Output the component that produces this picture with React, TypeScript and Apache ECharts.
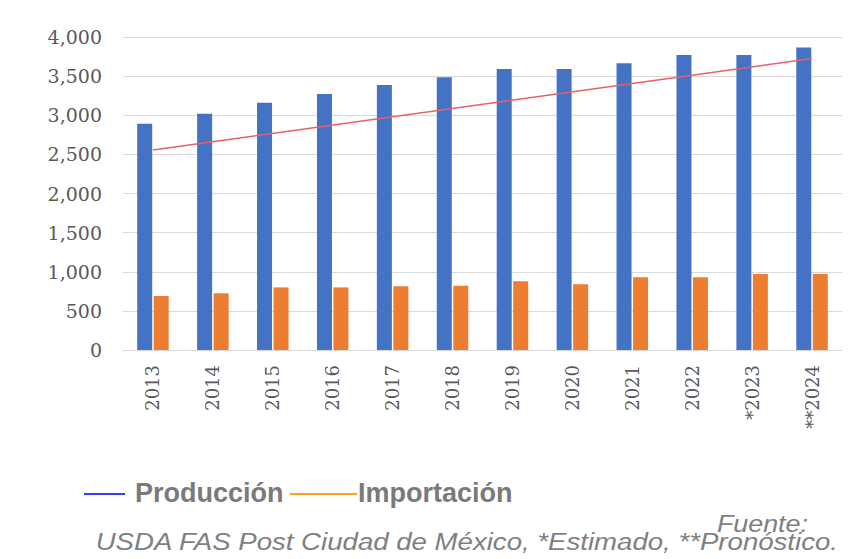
import React, { useEffect, useRef } from "react";
import * as echarts from "echarts";

const years = ["2013", "2014", "2015", "2016", "2017", "2018", "2019", "2020", "2021", "2022", "*2023", "**2024"];
const produccion = [2890, 3020, 3160, 3270, 3385, 3485, 3590, 3590, 3665, 3770, 3770, 3865];
const importacion = [690, 725, 800, 800, 815, 820, 880, 840, 930, 930, 970, 970];
const tendencia: (number | null)[] = [2555, null, null, null, null, null, null, null, null, null, null, 3725];
const yTicks = { min: 0, max: 4000, interval: 500 };
const legendLabels = ["Producción", "Importación"];
const footerLines = ["Fuente:", "USDA FAS Post Ciudad de México, *Estimado, **Pronóstico."];

const serif = "'DejaVu Serif', 'Liberation Serif', serif";
const sans = "'Liberation Sans', Arial, sans-serif";

export default function App() {
  const ref = useRef<HTMLDivElement>(null);
  useEffect(() => {
    document.body.style.margin = "0";
    if (!ref.current) return;
    const chart = echarts.init(ref.current, null, { renderer: "svg" });
    chart.setOption({
      animation: false,
      backgroundColor: "#ffffff",
      grid: { left: 123, right: 7, top: 37, bottom: 209 },
      xAxis: {
        type: "category",
        data: years,
        axisLine: { lineStyle: { color: "#d9d9d9", width: 1 } },
        axisTick: { show: false },
        axisLabel: {
          rotate: 90,
          margin: 15,
          fontFamily: serif,
          fontSize: 18,
          color: "#595959",
        },
      },
      yAxis: {
        type: "value",
        min: yTicks.min,
        max: yTicks.max,
        interval: yTicks.interval,
        axisLine: { show: false },
        axisTick: { show: false },
        splitLine: { lineStyle: { color: "#d9d9d9", width: 1 } },
        axisLabel: {
          margin: 21,
          fontFamily: serif,
          fontSize: 19,
          color: "#595959",
          formatter: (v: number) => v.toLocaleString("en-US"),
        },
      },
      series: [
        {
          name: legendLabels[0],
          type: "bar",
          data: produccion,
          barWidth: 15,
          barGap: "10%",
          itemStyle: { color: "#4472C4" },
        },
        {
          name: legendLabels[1],
          type: "bar",
          data: importacion,
          barWidth: 15,
          itemStyle: { color: "#ED7D31" },
        },
        {
          name: "Tendencia",
          type: "line",
          data: tendencia,
          connectNulls: true,
          symbol: "none",
          z: 5,
          lineStyle: { color: "#E8606A", width: 1.5 },
        },
      ],
      graphic: [
        { type: "line", shape: { x1: 84, y1: 494, x2: 125, y2: 494 }, style: { stroke: "#3a3aff", lineWidth: 2 } },
        {
          type: "text",
          x: 135,
          y: 493,
          style: { text: legendLabels[0], font: `bold 27px ${sans}`, fill: "#7a7a7a", textVerticalAlign: "middle" },
        },
        { type: "line", shape: { x1: 290, y1: 494, x2: 357, y2: 494 }, style: { stroke: "#ffa020", lineWidth: 2 } },
        {
          type: "text",
          x: 358,
          y: 493,
          style: { text: legendLabels[1], font: `bold 27px ${sans}`, fill: "#7a7a7a", textVerticalAlign: "middle" },
        },
        {
          type: "text",
          x: 808,
          y: 523.5,
          scaleX: 1.12,
          style: {
            text: footerLines[0],
            font: `italic 24px ${sans}`,
            lineHeight: 17,
            fill: "#7f7f7f",
            textAlign: "right",
            textVerticalAlign: "middle",
          },
        },
        {
          type: "text",
          x: 838,
          y: 541.5,
          scaleX: 1.15,
          style: {
            text: footerLines[1],
            font: `italic 24px ${sans}`,
            lineHeight: 17,
            fill: "#7f7f7f",
            textAlign: "right",
            textVerticalAlign: "middle",
          },
        },
      ],
    });
    return () => chart.dispose();
  }, []);
  return <div ref={ref} style={{ width: 849, height: 559 }} />;
}
